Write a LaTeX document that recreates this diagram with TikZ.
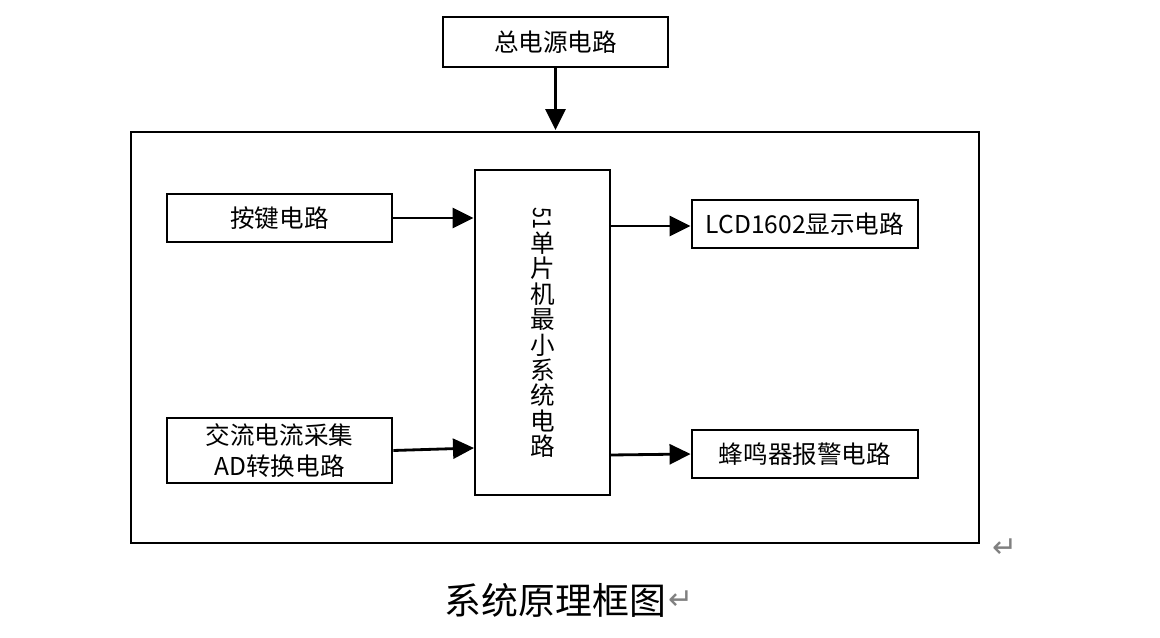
\documentclass[tikz,border=0pt]{standalone}
\usepackage{fontspec}
\usepackage{tikz}
\usetikzlibrary{arrows.meta}
\newfontfamily\cjk{Noto Sans CJK SC}
\newfontfamily\marksym{DejaVu Sans}

\begin{document}
\begin{tikzpicture}[x=0.02cm, y=-0.02cm,
		blockbox/.style={draw, line width=1.6pt, fill=white, inner sep=0pt, align=center,
			font=\cjk\fontsize{14pt}{17.6pt}\selectfont},
		flow/.style={line width=1.6pt, -{Triangle[length=0.42cm, width=0.4cm]}},
		parmark/.style={text=gray, inner sep=0pt, font=\marksym\fontsize{17pt}{17pt}\selectfont}]
	\useasboundingbox (0,0) rectangle (1160,638);
	
	% Outer frame
	\draw[line width=1.6pt] (131,132) rectangle (979,543);
	\coordinate (frameTop) at (555.5,130);
	
	% Define blocks
	\node[blockbox, minimum width=225*0.02cm, minimum height=50*0.02cm] (power) at (555.5,42) {总电源电路};
	\node[blockbox, minimum width=225*0.02cm, minimum height=48*0.02cm] (key) at (279.5,218) {按键电路};
	\node[blockbox, minimum width=225*0.02cm, minimum height=65*0.02cm] (adc) at (279.5,450.5) {交流电流采集\\AD转换电路};
	\node[blockbox, minimum width=135*0.02cm, minimum height=325*0.02cm,
		font=\cjk\fontsize{14pt}{14.5pt}\selectfont] (mcu) at (542.5,332.5)
		{\rotatebox[origin=c]{-90}{\scalebox{0.8}[1]{51}}\\单\\片\\机\\最\\小\\系\\统\\电\\路};
	\node[blockbox, minimum width=226*0.02cm, minimum height=48*0.02cm] (lcd) at (805,224) {LCD1602显示电路};
	\node[blockbox, minimum width=226*0.02cm, minimum height=48*0.02cm] (buzzer) at (805,454) {蜂鸣器报警电路};
	
	% Connections
	\coordinate (mcuIn) at (474,448);
	\coordinate (mcuOutA) at (611,226);
	\coordinate (mcuOutB) at (611,455);
	\draw[flow] (power) -- (frameTop);
	\draw[flow] (key) -- (key -| mcu.west);
	\draw[flow] (adc.east) -- (mcuIn);
	\draw[flow] (mcuOutA) -- (lcd.west |- mcuOutA);
	\draw[flow] (mcuOutB) -- (buzzer.west);
	
	% Caption
	\node[font=\cjk\fontsize{21pt}{21pt}\selectfont, inner sep=0pt] (caption) at (555.5,600) {系统原理框图};
	\node[parmark, anchor=west] (capmark) at ([xshift=1pt]caption.east) {↵};
	\node[parmark] (framemark) at (1005,548) {↵};
\end{tikzpicture}
\end{document}
